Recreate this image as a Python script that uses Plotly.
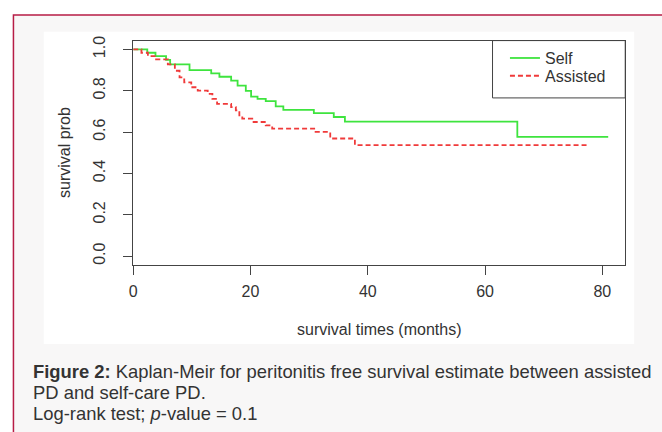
import plotly.graph_objects as go

W, H = 662, 432

# ---- data ----
self_times = [0, 2.4, 3.8, 5.6, 6.3, 9.6, 13.3, 14.7, 16.7, 17.8, 19.2, 20.1, 21.2, 22.6, 24.3, 25.6, 30.8, 34.2, 36.1, 65.5, 81.0]
self_surv = [1.0, 0.984, 0.968, 0.950, 0.928, 0.900, 0.884, 0.868, 0.849, 0.825, 0.800, 0.772, 0.761, 0.750, 0.725, 0.708, 0.692, 0.673, 0.651, 0.577, 0.577]

assist_times = [0, 1.4, 2.5, 3.9, 5.9, 7.1, 7.9, 8.7, 9.9, 11.0, 12.7, 13.5, 14.3, 16.7, 17.5, 18.1, 18.6, 20.3, 22.6, 23.7, 31.1, 33.6, 37.8, 77.5]
assist_surv = [1.0, 0.984, 0.968, 0.952, 0.928, 0.897, 0.865, 0.841, 0.817, 0.801, 0.785, 0.761, 0.737, 0.721, 0.705, 0.681, 0.665, 0.649, 0.633, 0.617, 0.601, 0.569, 0.537, 0.537]

x_ticks = [0, 20, 40, 60, 80]
y_ticks = [0.0, 0.2, 0.4, 0.6, 0.8, 1.0]
y_ticktext = ["0.0", "0.2", "0.4", "0.6", "0.8", "1.0"]

series_names = ["Self", "Assisted"]

FONT = "Arial"
AX = "#444444"
TXT = "#333333"
CAP = 18.4


def px(x):
    return x / W


def py(y):
    return 1 - y / H


fig = go.Figure()
fig.add_trace(go.Scatter(x=self_times, y=self_surv, mode="lines", name=series_names[0], legend="legend",
                         line=dict(shape="hv", color="#3ee43e", width=1.8)))
fig.add_trace(go.Scatter(x=assist_times, y=assist_surv, mode="lines", name=series_names[1], legend="legend2",
                         line=dict(shape="hv", color="#f03a3a", width=1.8, dash="5px,3px")))

shapes = [
    # outer framed panel
    dict(type="rect", xref="paper", yref="paper", x0=px(9.5), x1=px(670), y0=py(440), y1=py(10),
         fillcolor="#f8f7f7", line=dict(color="#b71c46", width=1.5), layer="below"),
    # white chart image
    dict(type="rect", xref="paper", yref="paper", x0=px(40), x1=px(634), y0=py(343), y1=py(27),
         fillcolor="white", line=dict(width=0), layer="below"),
    # legend frame
    dict(type="rect", xref="paper", yref="paper", x0=px(491.5), x1=px(625), y0=py(94), y1=py(36),
         fillcolor="rgba(0,0,0,0)", line=dict(color=AX, width=1), layer="above"),
]

annotations = [
    dict(text="survival prob", x=px(61), y=py(149), xref="paper", yref="paper", showarrow=False,
         textangle=-90, font=dict(family=FONT, size=16, color=TXT), xanchor="center", yanchor="middle"),
    dict(text="survival times (months)", x=px(377), y=py(328), xref="paper", yref="paper", showarrow=False,
         font=dict(family=FONT, size=16, color=TXT), xanchor="center", yanchor="middle"),
    dict(text="<b>Figure 2:</b> Kaplan-Meir for peritonitis free survival estimate between assisted",
         x=px(27), y=py(371), xref="paper", yref="paper", showarrow=False,
         font=dict(family=FONT, size=CAP, color=TXT), xanchor="left", yanchor="middle"),
    dict(text="PD and self-care PD.",
         x=px(27), y=py(392), xref="paper", yref="paper", showarrow=False,
         font=dict(family=FONT, size=CAP, color=TXT), xanchor="left", yanchor="middle"),
    dict(text="Log-rank test; <i>p</i>-value = 0.1",
         x=px(27), y=py(413), xref="paper", yref="paper", showarrow=False,
         font=dict(family=FONT, size=CAP, color=TXT), xanchor="left", yanchor="middle"),
]

legend_style = dict(xanchor="left", yanchor="top", bgcolor="rgba(0,0,0,0)", borderwidth=0, itemwidth=30,
                    font=dict(family=FONT, size=16, color=TXT))

fig.update_layout(
    width=W, height=H,
    margin=dict(l=0, r=0, t=0, b=0),
    paper_bgcolor="white",
    plot_bgcolor="white",
    shapes=shapes,
    annotations=annotations,
    showlegend=True,
    legend=dict(x=px(504), y=py(36.5), **legend_style),
    legend2=dict(x=px(504), y=py(54.5), **legend_style),
    xaxis=dict(domain=[px(130), px(625)], range=[0, 83.9], tickvals=x_ticks,
               showgrid=False, zeroline=False, showline=True, linecolor=AX, linewidth=1,
               mirror=True, ticks="outside", ticklen=9, tickcolor=AX, tickwidth=1,
               tickfont=dict(family=FONT, size=16, color=TXT), ticklabelstandoff=3),
    yaxis=dict(domain=[py(263), py(36)], range=[-0.043, 1.043], tickvals=y_ticks, ticktext=y_ticktext,
               showgrid=False, zeroline=False, showline=True, linecolor=AX, linewidth=1,
               mirror=True, ticks="outside", ticklen=9, tickcolor=AX, tickwidth=1, tickangle=-90,
               tickfont=dict(family=FONT, size=16, color=TXT), ticklabelstandoff=12),
)

fig.write_html("out.html", post_script="document.body.style.margin='0';",
               config={"displayModeBar": False})
